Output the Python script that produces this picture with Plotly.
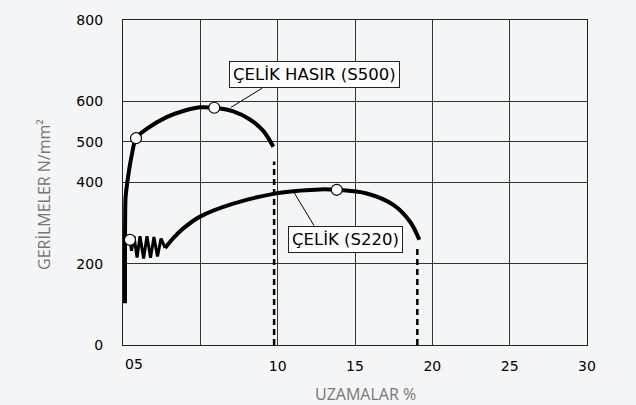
import plotly.graph_objects as go

# S500 (ÇELİK HASIR) curve
s500_x = [0.13, 0.13, 0.14, 0.17, 0.34, 0.56, 0.84, 1.53, 2.82, 3.9, 4.98, 5.9, 7.13, 8.21, 9.07, 9.72]
s500_y = [103, 250, 320, 365, 417, 466, 509, 532, 561, 576, 585, 584, 575, 555, 527, 488]
s500_pts_x = [0.84, 5.9]
s500_pts_y = [509, 584]
s500_break_x = [9.77, 9.77]
s500_break_y = [0, 452]

# S220 (ÇELİK) curve
s220_x = [0.45, 0.55, 0.71, 0.91, 1.10, 1.33, 1.55, 1.78, 2.00, 2.23, 2.46, 2.72, 3.3, 3.9, 4.98, 7.13, 9.72, 11.45, 12.74, 13.82, 15.76, 17.48, 18.55, 19.16]
s220_y = [259, 232, 268, 215, 268, 213, 268, 215, 266, 218, 262, 239, 265, 287, 316, 348, 372, 380, 383, 382, 373, 345, 304, 259]
s220_pts_x = [0.45, 13.82]
s220_pts_y = [259, 382]
s220_break_x = [19.03, 19.03]
s220_break_y = [0, 240]

x_ticks = [0, 5, 10, 15, 20, 25, 30]
x_ticktext = ["", "", "10", "15", "20", "25", "30"]
y_ticks = [0, 200, 400, 500, 600, 800]
y_ticktext = ["0", "200", "400", "500", "600", "800"]

label_s500 = "ÇELİK HASIR (S500)"
label_s220 = "ÇELİK (S220)"
x_title = "UZAMALAR %"
y_title = "GERİLMELER N/mm²"

FONT = "DejaVu Sans"
TFONT = "Open Sans"
BG = "#f4f5f7"

fig = go.Figure()
fig.add_trace(go.Scatter(x=s500_break_x, y=s500_break_y, mode="lines",
                         line=dict(color="black", width=2.5, dash="6px,4px"), hoverinfo="skip"))
fig.add_trace(go.Scatter(x=s220_break_x, y=s220_break_y, mode="lines",
                         line=dict(color="black", width=2.5, dash="6px,4px"), hoverinfo="skip"))
fig.add_trace(go.Scatter(x=s500_x, y=s500_y, mode="lines",
                         line=dict(color="black", width=4, shape="spline", smoothing=0.8)))
fig.add_trace(go.Scatter(x=s220_x[:12], y=s220_y[:12], mode="lines",
                         line=dict(color="black", width=3)))
fig.add_trace(go.Scatter(x=s220_x[11:], y=s220_y[11:], mode="lines",
                         line=dict(color="black", width=4, shape="spline", smoothing=1.0)))
fig.add_trace(go.Scatter(x=s500_pts_x + s220_pts_x, y=s500_pts_y + s220_pts_y, mode="markers",
                         marker=dict(size=11, color="white", line=dict(color="black", width=1.2))))

# leader lines
fig.add_shape(type="line", xref="x", yref="y", x0=6.98, y0=585, x1=8.99, y1=632,
              line=dict(color="black", width=1))
fig.add_shape(type="line", xref="x", yref="y", x0=11.0, y0=379, x1=12.35, y1=294,
              line=dict(color="black", width=1))

fig.add_annotation(x=12.35, y=666, xref="x", yref="y", text=label_s500, showarrow=False,
                   yanchor="middle", font=dict(family=FONT, size=16.5, color="black"),
                   bgcolor="white", bordercolor="#222", borderwidth=1, borderpad=3)
fig.add_annotation(x=14.38, y=259, xref="x", yref="y", text=label_s220, showarrow=False,
                   yanchor="middle", font=dict(family=FONT, size=16.5, color="black"),
                   bgcolor="white", bordercolor="#222", borderwidth=1, borderpad=3)

fig.add_annotation(x=0, y=0, xref="x", yref="paper", text="05", showarrow=False,
                   xanchor="left", yanchor="top", yshift=-9,
                   font=dict(family=FONT, size=14, color="black"))
fig.add_annotation(x=0.523, y=-0.152, xref="paper", yref="paper", text=x_title, showarrow=False,
                   yanchor="middle", font=dict(family=TFONT, size=16, color="#777"))
fig.add_annotation(x=-0.170, y=0.462, xref="paper", yref="paper", text=y_title, showarrow=False,
                   textangle=-90, xanchor="center", yanchor="middle",
                   font=dict(family=TFONT, size=16, color="#777"))

fig.update_layout(
    width=636, height=405,
    margin=dict(l=123, r=49, t=16, b=60),
    paper_bgcolor=BG, plot_bgcolor=BG,
    showlegend=False,
    xaxis=dict(range=[0, 30], tickvals=x_ticks, ticktext=x_ticktext,
               showgrid=True, gridcolor="#333", gridwidth=1,
               showline=True, linecolor="#222", linewidth=1.3, mirror=True,
               zeroline=False, ticks="", ticklabelstandoff=8,
               tickfont=dict(family=FONT, size=14, color="black")),
    yaxis=dict(range=[0, 800], tickvals=y_ticks, ticktext=y_ticktext,
               showgrid=True, gridcolor="#333", gridwidth=1,
               showline=True, linecolor="#222", linewidth=1.3, mirror=True,
               zeroline=False, ticks="", ticklabelstandoff=16,
               tickfont=dict(family=FONT, size=14, color="black")),
)

fig.write_html("out.html", config={"displayModeBar": False},
               post_script="document.body.style.margin='0px';")
